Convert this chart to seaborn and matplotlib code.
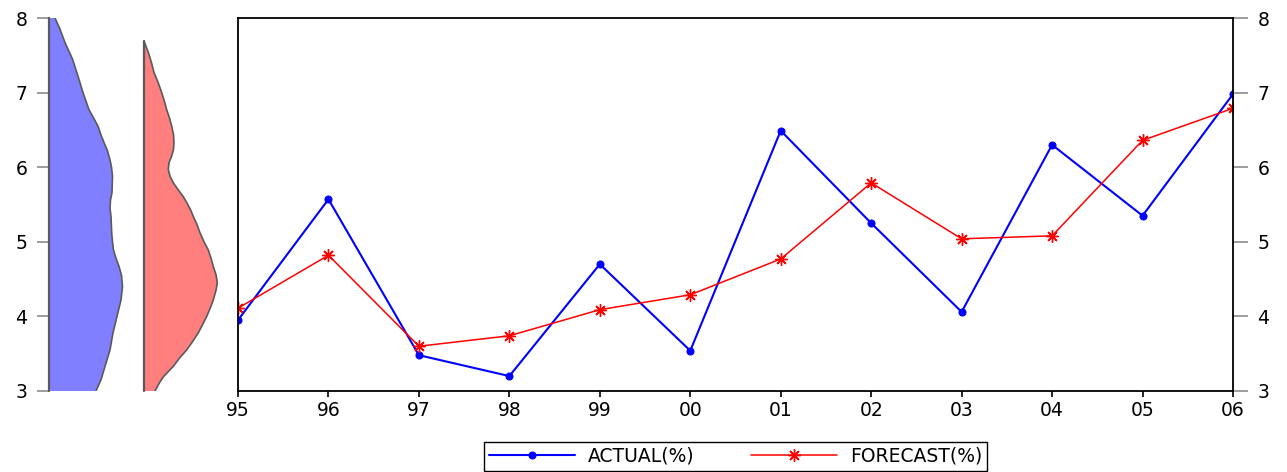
import matplotlib
matplotlib.use("Agg")
import matplotlib.pyplot as plt
import seaborn as sns
import pandas as pd

# ==========================================
# data
# ==========================================
YEARS = ["95", "96", "97", "98", "99", "00", "01", "02", "03", "04", "05", "06"]
ACTUAL = [3.95, 5.57, 3.48, 3.20, 4.70, 3.54, 6.49, 5.25, 4.06, 6.30, 5.35, 6.98]
FORECAST = [4.11, 4.82, 3.60, 3.74, 4.09, 4.29, 4.77, 5.79, 5.04, 5.08, 6.36, 6.79]

# density profiles shown in the left panel (value level -> relative density)
ACT_LEVELS = [3.00, 3.15, 3.33, 3.55, 3.78, 4.00, 4.22, 4.40, 4.55, 4.67, 4.78, 4.89,
              5.00, 5.12, 5.34, 5.45, 5.56, 5.66, 5.88, 6.00, 6.10, 6.22, 6.33, 6.45,
              6.55, 6.65, 6.77, 7.00, 7.22, 7.45, 7.67, 7.85, 8.00]
ACT_DENS = [0.47, 0.52, 0.56, 0.61, 0.64, 0.68, 0.72, 0.735, 0.725, 0.70, 0.67, 0.645,
            0.635, 0.627, 0.62, 0.61, 0.615, 0.63, 0.635, 0.625, 0.61, 0.585, 0.55, 0.515,
            0.49, 0.45, 0.40, 0.34, 0.29, 0.235, 0.16, 0.11, 0.06]

FC_LEVELS = [3.00, 3.10, 3.19, 3.33, 3.45, 3.55, 3.67, 3.78, 3.90, 4.00, 4.12, 4.22,
             4.35, 4.45, 4.56, 4.67, 4.78, 4.89, 5.00, 5.12, 5.23, 5.34, 5.43, 5.52,
             5.61, 5.70, 5.79, 5.88, 5.97, 6.06, 6.15, 6.24, 6.33, 6.44, 6.55, 6.66,
             6.77, 6.88, 7.00, 7.14, 7.27, 7.40, 7.54, 7.69]
FC_DENS = [0.11, 0.15, 0.193, 0.293, 0.36, 0.427, 0.49, 0.543, 0.59, 0.627, 0.665, 0.693,
           0.72, 0.733, 0.72, 0.693, 0.67, 0.643, 0.60, 0.56, 0.53, 0.493, 0.465, 0.43,
           0.39, 0.34, 0.293, 0.26, 0.243, 0.25, 0.277, 0.295, 0.30, 0.295, 0.277, 0.255,
           0.227, 0.205, 0.177, 0.14, 0.10, 0.075, 0.043, 0.0]

Y_TICKS = [3, 4, 5, 6, 7, 8]

# ==========================================
# style
# ==========================================
sns.set_theme(style="white")
plt.rcParams["font.family"] = ["DejaVu Sans"]
plt.rcParams["text.color"] = "black"
FS = 13.5
W, H = 1287, 472
EDGE = "#5a5a5a"
TICK_GREY = "#8c8c8c"


def box(l, t, r, b):
    return [l / W, 1 - b / H, (r - l) / W, (b - t) / H]


fig = plt.figure(figsize=(W / 100, H / 100), dpi=100)
ax = fig.add_axes(box(238, 18, 1233, 391))
ax_a = fig.add_axes(box(49, 18, 129, 391))
ax_f = fig.add_axes(box(144, 18, 224, 391))

# ==========================================
# left panel: density shapes
# ==========================================
for a, lev, dens, col in [(ax_a, ACT_LEVELS, ACT_DENS, "#7f7fff"),
                          (ax_f, FC_LEVELS, FC_DENS, "#ff7f7f")]:
    a.fill_betweenx(lev, 0, dens, facecolor=col, edgecolor="none")
    a.plot(dens, lev, color=EDGE, lw=1.2)
    a.plot([0, 0], [lev[0], lev[-1]], color=EDGE, lw=1.6, clip_on=False)
    a.set_xlim(0, 0.8)
    a.set_ylim(3, 8)
    a.patch.set_alpha(0)
    for s in a.spines.values():
        s.set_visible(False)
    a.set_xticks([])

ax_a.set_yticks(Y_TICKS)
ax_a.tick_params(axis="y", left=True, length=8.5, width=1.2, color=TICK_GREY,
                 pad=7, labelsize=FS, labelcolor="black")
ax_f.set_yticks([])

# ==========================================
# main panel: actual vs forecast
# ==========================================
df = pd.DataFrame({"t": range(len(YEARS)), "ACTUAL(%)": ACTUAL, "FORECAST(%)": FORECAST})

sns.lineplot(data=df, x="t", y="ACTUAL(%)", ax=ax, color="blue", lw=1.5,
             marker="o", ms=5, mec="blue", mew=0.8, label="ACTUAL(%)")
sns.lineplot(data=df, x="t", y="FORECAST(%)", ax=ax, color="red", lw=1.1,
             marker=(8, 2, 0), ms=9, mec="red", mew=1.0, label="FORECAST(%)")

ax.set_xlim(0, len(YEARS) - 1)
ax.set_ylim(3, 8)
ax.set_xticks(range(len(YEARS)))
ax.set_xticklabels(YEARS)
ax.set_yticks(Y_TICKS)
ax.yaxis.tick_right()
ax.set_xlabel("")
ax.set_ylabel("")
for s in ax.spines.values():
    s.set_visible(True)
    s.set_color("black")
    s.set_linewidth(1.3)
ax.tick_params(axis="x", bottom=True, length=4.5, width=1.2, color="black",
               pad=3, labelsize=FS, labelcolor="black")
ax.tick_params(axis="y", right=True, left=False, length=10.5, width=1.2,
               color=TICK_GREY, pad=7, labelsize=FS, labelcolor="black")
ax.grid(False)

leg = ax.legend(loc="center", bbox_to_anchor=(735.5 / W, 1 - 456.5 / H),
                bbox_transform=fig.transFigure, ncol=2, fontsize=FS,
                frameon=True, fancybox=False, framealpha=1, edgecolor="black",
                handlelength=4.6, handletextpad=0.7, columnspacing=3.0,
                borderpad=0.25, borderaxespad=0)
leg.get_frame().set_linewidth(1.0)
for t in leg.get_texts():
    t.set_color("black")

fig.savefig("out.png", dpi=100)
